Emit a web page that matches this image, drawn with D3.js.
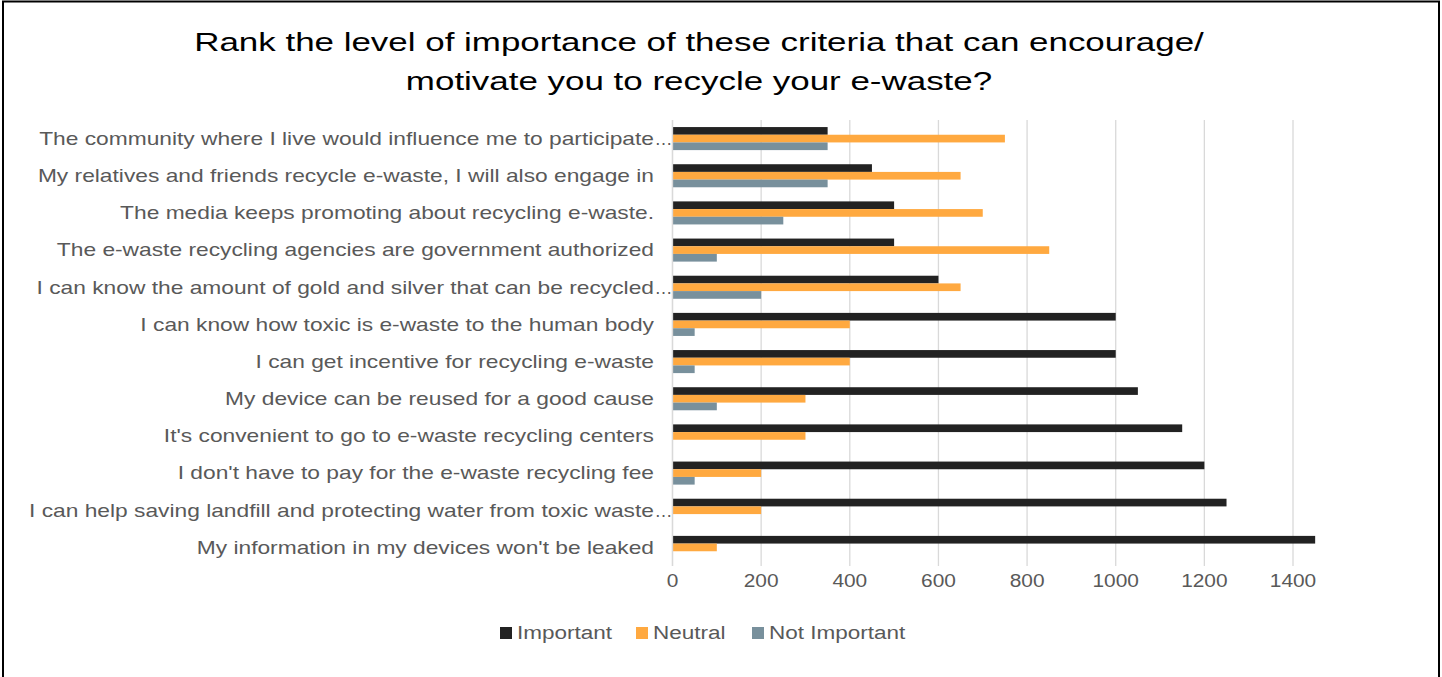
<!DOCTYPE html>
<html>
<head>
<meta charset="utf-8">
<script src="https://cdn.jsdelivr.net/npm/d3@7/dist/d3.min.js"></script>
<style>
  html, body { margin: 0; padding: 0; background: #fff; }
  svg { display: block; }
</style>
</head>
<body>
<svg id="chart" width="1442" height="677"></svg>
<script>
// Survey criteria, top to bottom
const categories = [
  "The community where I live would influence me to participate…",
  "My relatives and friends recycle e-waste, I will also engage in",
  "The media keeps promoting about recycling e-waste.",
  "The e-waste recycling agencies are government authorized",
  "I can know the amount of gold and silver that can be recycled…",
  "I can know how toxic is e-waste to the human body",
  "I can get incentive for recycling e-waste",
  "My device can be reused for a good cause",
  "It's convenient to go to e-waste recycling centers",
  "I don't have to pay for the e-waste recycling fee",
  "I can help saving landfill and protecting water from toxic waste…",
  "My information in my devices won't be leaked"
];

const seriesNames = ["Important", "Neutral", "Not Important"];
const important    = [350, 450, 500, 500, 600, 1000, 1000, 1050, 1150, 1200, 1250, 1450];
const neutral      = [750, 650, 700, 850, 650, 400, 400, 300, 300, 200, 200, 100];
const notImportant = [350, 350, 250, 100, 200, 50, 50, 100, 0, 50, 0, 0];
const xTicks = [0, 200, 400, 600, 800, 1000, 1200, 1400];
const titleLines = [
  "Rank the level of importance of these criteria that can encourage/",
  "motivate you to recycle your e-waste?"
];

const colors = ["#222222", "#FFA940", "#78909C"];
const seriesValues = [important, neutral, notImportant];

const svg = d3.select("#chart");
const font = "'Liberation Sans', Arial, sans-serif";

// Text is drawn in a wide face: each label is stretched horizontally about its anchor
function wideText(parent, x, y, sx, str, opts) {
  const g = parent.append("g").attr("transform", `translate(${x},${y}) scale(${sx},1)`);
  return g.append("text")
    .attr("x", 0).attr("y", 0)
    .attr("dy", opts.dy || null)
    .attr("text-anchor", opts.anchor || "start")
    .attr("font-family", font)
    .attr("font-size", opts.size)
    .attr("fill", opts.fill)
    .text(str);
}

// Outer frame
svg.append("rect")
  .attr("x", 3).attr("y", 1.5)
  .attr("width", 1436).attr("height", 690)
  .attr("fill", "none").attr("stroke", "#000").attr("stroke-width", 2);

// Title
const titleG = svg.append("g");
titleLines.forEach((t, i) => {
  wideText(titleG, 699, 51 + i * 39, 1.37, t, { anchor: "middle", size: 25.5, fill: "#000" });
});

const x = d3.scaleLinear().domain([0, 1400]).range([672.5, 1293]);
const y = d3.scaleBand().domain(categories).range([120, 566]).paddingInner(0.38).paddingOuter(0.19);
const sub = d3.scaleBand().domain(seriesNames).range([0, y.bandwidth()]);

// Gridlines
svg.append("g").selectAll("line")
  .data(xTicks)
  .join("line")
  .attr("x1", d => x(d)).attr("x2", d => x(d))
  .attr("y1", 120).attr("y2", 566)
  .attr("stroke", "#d9d9d9").attr("stroke-width", 1.3);

// Bars
seriesNames.forEach((name, si) => {
  svg.append("g")
    .selectAll("rect")
    .data(categories.map((c, i) => ({ c, v: seriesValues[si][i] })))
    .join("rect")
    .attr("x", x(0))
    .attr("y", d => y(d.c) + sub(name))
    .attr("width", d => Math.max(0, x(d.v) - x(0)))
    .attr("height", sub.bandwidth())
    .attr("fill", colors[si]);
});

// Category axis line
svg.append("line")
  .attr("x1", x(0)).attr("x2", x(0))
  .attr("y1", 120).attr("y2", 566)
  .attr("stroke", "#d9d9d9").attr("stroke-width", 1.3);

// Category labels; truncated ones hang their ellipsis past the label edge
const catG = svg.append("g");
categories.forEach(c => {
  const cy = y(c) + y.bandwidth() / 2;
  const cut = c.endsWith("…");
  const body = cut ? c.slice(0, -1) : c;
  wideText(catG, 654, cy, 1.265, body,
    { anchor: "end", size: 18, fill: "#595959", dy: "0.35em" });
  if (cut) {
    wideText(catG, 654.5, cy, 1.0, "…",
      { anchor: "start", size: 18, fill: "#595959", dy: "0.35em" });
  }
});

// Value axis labels
const tickG = svg.append("g");
xTicks.forEach(t => {
  wideText(tickG, x(t), 581, 1.16, String(t),
    { anchor: "middle", size: 18, fill: "#595959", dy: "0.35em" });
});

// Legend
const legendX = [500, 636, 752];
const legendG = svg.append("g");
seriesNames.forEach((name, i) => {
  legendG.append("rect")
    .attr("x", legendX[i]).attr("y", 627)
    .attr("width", 12).attr("height", 12)
    .attr("fill", colors[i]);
  wideText(legendG, legendX[i] + 17, 633, 1.25, name,
    { anchor: "start", size: 18, fill: "#595959", dy: "0.35em" });
});
</script>
</body>
</html>
